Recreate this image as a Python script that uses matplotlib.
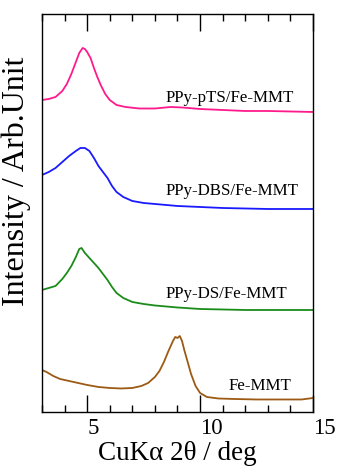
import numpy as np
import matplotlib
matplotlib.use("Agg")
import matplotlib.pyplot as plt
from matplotlib.ticker import MultipleLocator

plt.rcParams['font.family'] = ['Liberation Serif', 'DejaVu Serif']

# values (intensity in arbitrary units)
pts_x = [3.0, 3.3, 3.6, 3.9, 4.1, 4.3, 4.5, 4.65, 4.8, 4.9, 5.0, 5.15, 5.3, 5.45,
         5.6, 5.8, 6.0, 6.3, 6.7, 7.3, 8.0, 8.7, 9.2, 10, 11, 12, 13, 14, 15]
pts_y = [312, 313, 315, 321, 328, 338, 350, 359, 364, 363, 360, 354, 344, 335,
         327, 318, 312, 307, 305, 303.5, 303.5, 305, 304.5, 303, 302, 301, 301, 300.5, 300]

dbs_x = [3.0, 3.3, 3.6, 3.9, 4.2, 4.5, 4.7, 4.9, 5.1, 5.3, 5.5, 5.7, 5.9, 6.1,
         6.3, 6.6, 7.0, 7.5, 8.0, 9.0, 10, 11, 12, 13, 14, 15]
dbs_y = [237, 240, 244, 250, 256, 261, 264, 264, 261, 254, 246, 240, 234, 226,
         220, 215, 211, 209, 208, 206, 205, 204, 203.5, 203, 203, 203]

ds_x = [3.0, 3.3, 3.6, 3.9, 4.1, 4.3, 4.5, 4.65, 4.75, 4.9, 5.1, 5.3, 5.5, 5.7,
        5.9, 6.1, 6.3, 6.6, 7.0, 7.5, 8.0, 9.0, 10, 11, 12, 13, 14, 15]
ds_y = [122, 124, 126, 133, 139, 146, 155, 163, 164, 159, 154, 149, 144, 138,
        132, 125, 119, 114, 110, 108, 106.5, 104.5, 103, 102.5, 102, 102, 102, 102]

mmt_x = [3.0, 3.2, 3.5, 3.8, 4.2, 4.6, 5.0, 5.5, 6.0, 6.5, 7.0, 7.4, 7.7, 8.0,
         8.2, 8.4, 8.6, 8.8, 8.9, 9.0, 9.1, 9.2, 9.3, 9.45, 9.6, 9.8, 10.0, 10.3,
         10.8, 11.5, 12.5, 13.5, 14.5, 15]
mmt_y = [42, 40, 36, 33, 31, 29, 27, 25, 24, 23.5, 24, 26, 29, 35,
         41, 50, 61, 71, 75, 74, 76, 71, 62, 50, 38, 26, 19, 15,
         13.5, 13, 12.5, 12.5, 12.5, 14]

series = [
    (pts_x, pts_y, '#ff1a8c', 'PPy-pTS/Fe-MMT', 310),
    (dbs_x, dbs_y, '#1a1aff', 'PPy-DBS/Fe-MMT', 217),
    (ds_x, ds_y, '#1a8c1a', 'PPy-DS/Fe-MMT', 114),
    (mmt_x, mmt_y, '#9c5a14', 'Fe-MMT', 22),
]
label_x = [8.45, 8.45, 8.45, 11.26]

fig = plt.figure(figsize=(3.37, 4.68), dpi=100)
ax = fig.add_axes([0.1246, 0.1197, 0.8042, 0.8504])

for (x, y, c, name, ty), lx in zip(series, label_x):
    ax.plot(x, y, color=c, lw=1.3)
    ax.text(lx, ty, name, fontsize=12.2, ha='left', va='baseline')

ax.set_xlim(3, 15)
ax.set_ylim(0, 398)
ax.set_yticks([])
ax.xaxis.set_major_locator(MultipleLocator(5))
ax.xaxis.set_minor_locator(MultipleLocator(1))
ax.tick_params(axis='x', which='both', direction='in', top=True, width=1)
ax.tick_params(axis='x', which='major', length=12, labelsize=16.5, pad=4)
ax.tick_params(axis='x', which='minor', length=5)
for lab in ax.get_xticklabels():
    lab.set_horizontalalignment('left')
for sp in ax.spines.values():
    sp.set_linewidth(1.0)

ax.set_xlabel('CuKα 2θ / deg', fontsize=19.5, labelpad=2)
ax.set_ylabel('Intensity / Arb.Unit', fontsize=23)
ax.yaxis.set_label_coords(-0.04, 0.58)

fig.savefig('out.png', dpi=100)
